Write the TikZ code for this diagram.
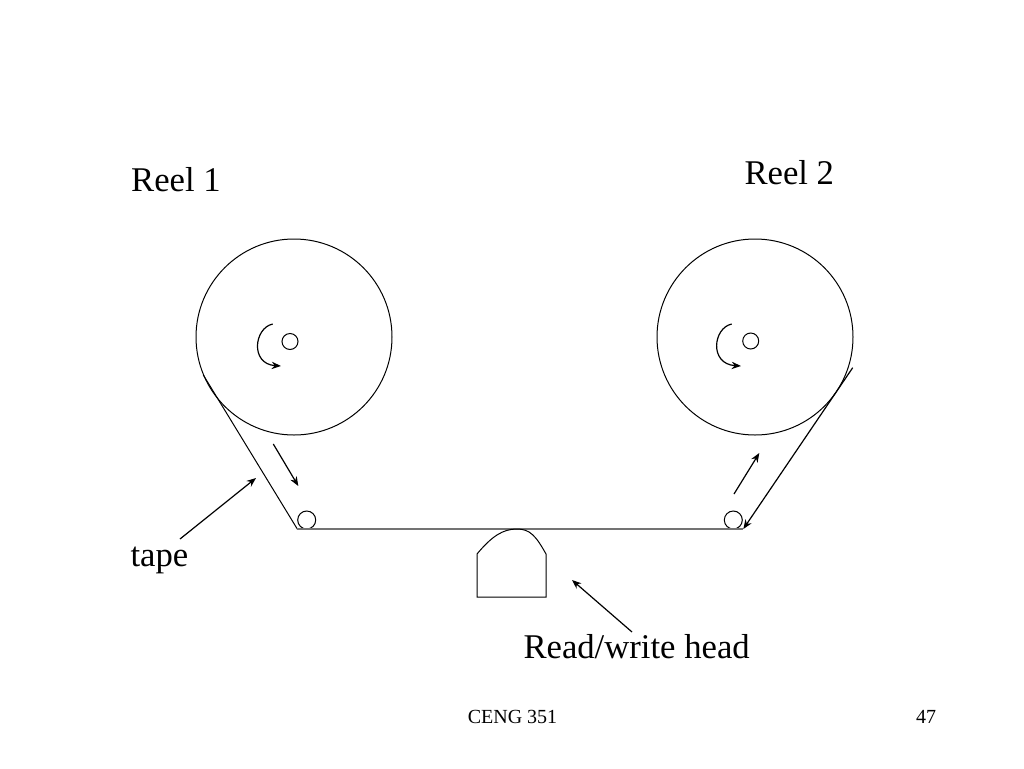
\documentclass[tikz,border=0pt]{standalone}
\usepackage{fontspec}
\setmainfont{Liberation Serif}
\usetikzlibrary{positioning,arrows.meta}

\begin{document}
\begin{tikzpicture}[
                x=0.75pt,y=-0.75pt,
                line width=0.75pt,
                reel/.style={circle,draw,minimum size=147pt,inner sep=0pt},
                hub/.style={circle,draw,minimum size=12pt,inner sep=0pt},
                roller/.style={circle,draw,minimum size=13.5pt,inner sep=0pt},
                bigtext/.style={inner sep=0pt,anchor=base west,font=\fontsize{26}{30}\selectfont},
                smalltext/.style={inner sep=0pt,anchor=base west,font=\fontsize{15}{18}\selectfont},
                pointer/.style={line width=0.9pt,-{Stealth[length=7pt,width=5.5pt]}},
                tapeline/.style={draw=black!55,line width=1.3pt}
            ]
                \useasboundingbox (0,0) rectangle (1024,768);
                \node (reelA)   [reel]   at (294,337)   {};
                \node (reelB)   [reel]   at (755,337)   {};
                \node (hubA)    [hub]    at (290,341.5) {};
                \node (hubB)    [hub]    at (750.7,341) {};
                \node (rollerA) [roller] at (306.7,520) {};
                \node (rollerB) [roller] at (733.3,520) {};
                \coordinate (tapeA) at (203.3,375);
                \coordinate (tapeB) at (297.3,529);
                \coordinate (tapeC) at (743.3,529);
                \coordinate (tapeD) at (852.7,367.7);
                \draw (tapeA) -- (tapeB);
                \draw[tapeline] (tapeB) -- (tapeC);
                \draw[pointer] (tapeD) -- (tapeC);
                % turning of the reels
                \draw[pointer] (272.7,324) .. controls (254,328) and (250,364) .. (281,366);
                \draw[pointer] (731.7,324) .. controls (713,328) and (709,364) .. (741,366);
                % way of the tape
                \draw[pointer] (273.3,444) -- (298.3,486);
                \draw[pointer] (734,494) -- (759.3,453);
                % head
                \draw (477,597) -- (477,554) .. controls (492,536) and (503,529) .. (517,529)
                    .. controls (530,529) and (536,536) .. (546,554) -- (546,597) -- cycle;
                \node (reelAtext) [bigtext] at (130.7,191.7) {Reel 1};
                \node (reelBtext) [bigtext] at (744,184.3)   {Reel 2};
                \node (tapetext)  [bigtext] at (130,566.7)   {tape};
                \node (headtext)  [bigtext] at (523,658.3)   {Read/write head};
                \coordinate (tapetip) at (256,478);
                \coordinate (headtip) at (572,580);
                \draw[pointer] (180,539) -- (tapetip);
                \draw[pointer] (632,632) -- (headtip);
                \node (course) [smalltext] at (467.3,723.3) {CENG 351};
                \node (page)   [smalltext] at (915.7,723.3) {47};
            \end{tikzpicture}
\end{document}
